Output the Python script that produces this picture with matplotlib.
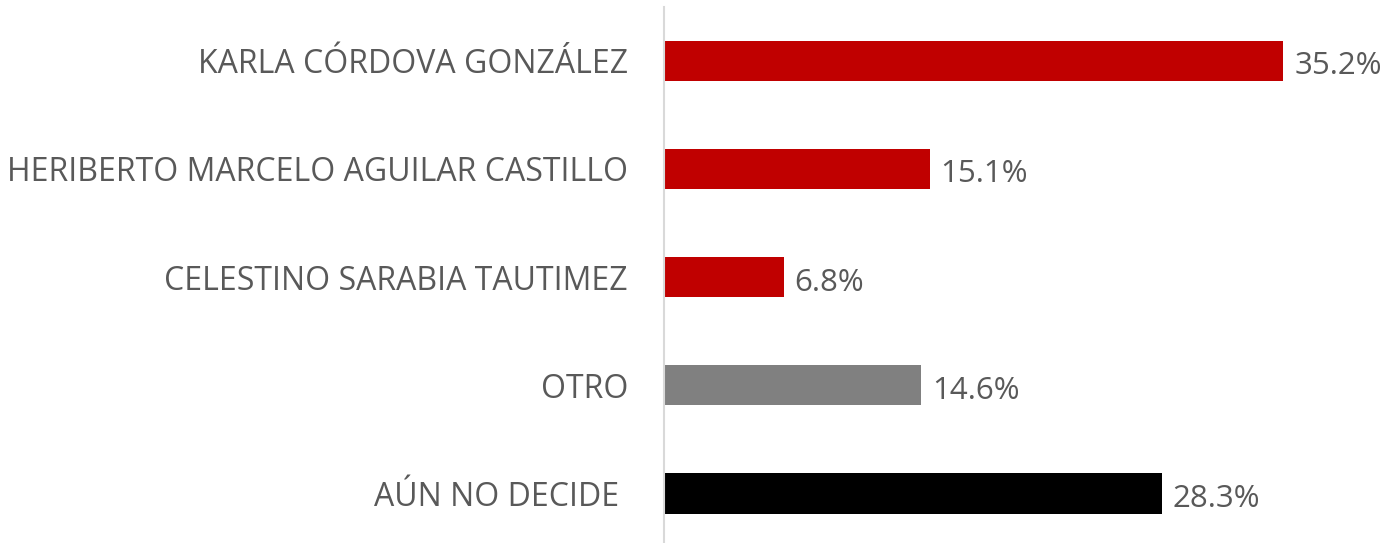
import matplotlib
matplotlib.use("Agg")
import matplotlib.pyplot as plt

categories = ["KARLA CÓRDOVA GONZÁLEZ",
              "HERIBERTO MARCELO AGUILAR CASTILLO",
              "CELESTINO SARABIA TAUTIMEZ",
              "OTRO",
              "AÚN NO DECIDE "]
values = [35.2, 15.1, 6.8, 14.6, 28.3]
colors = ["#C00000", "#C00000", "#C00000", "#808080", "#000000"]

plt.rcParams['font.family'] = ['Open Sans', 'DejaVu Sans']
textcol = "#595959"

fig = plt.figure(figsize=(13.86, 5.43), dpi=100)
# axes placed in pixels: left edge at 664, top at 6.5, bottom at 547.6
ax = fig.add_axes([664/1386, (543-547.6)/543, (1386-664)/1386, (547.6-6.5)/543])

ypos = list(range(len(categories)))
ax.barh(ypos, values, height=0.37, color=colors)
ax.set_ylim(len(categories)-0.5, -0.5)
ax.set_xlim(0, (1386-664)/(1283-664)*35.2)

ax.set_yticks(ypos)
ax.set_yticklabels(categories, fontsize=23, color=textcol)
ax.tick_params(axis='y', length=0, pad=26)
ax.set_xticks([])
for s in ["top", "right", "bottom"]:
    ax.spines[s].set_visible(False)
ax.spines["left"].set_color("#D9D9D9")
ax.spines["left"].set_linewidth(1.5)

for y, v in zip(ypos, values):
    ax.annotate("%.1f%%" % v, (v, y), xytext=(8, -4), textcoords="offset points",
                ha="left", va="center", fontsize=22.5, color=textcol)

fig.savefig("out.png", dpi=100)
